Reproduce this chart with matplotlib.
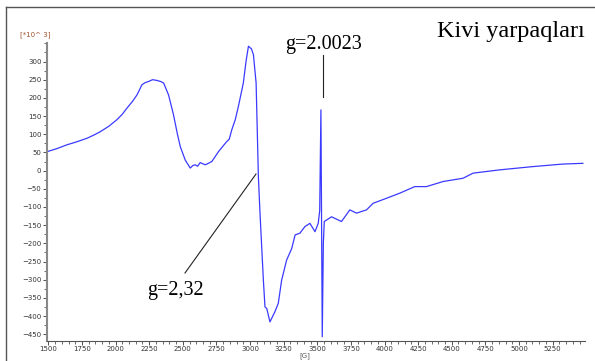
import numpy as np
import matplotlib
matplotlib.use('AGG')
import matplotlib.pyplot as plt
from matplotlib.lines import Line2D
from matplotlib.ticker import MultipleLocator

# EPR spectrum: field [G], signal [*10^3]
field = [1490, 1560, 1639, 1710, 1788, 1840, 1886, 1950, 2010, 2050, 2085, 2125,
         2159, 2196, 2220, 2245, 2275, 2307, 2335, 2357, 2394, 2431, 2460, 2481,
         2518, 2555, 2575, 2592, 2610, 2629, 2666, 2690, 2716, 2765, 2800, 2827,
         2845, 2864, 2890, 2913, 2950, 2970, 2988, 3010, 3025, 3045, 3062, 3074,
         3099, 3111, 3124, 3148, 3185, 3210, 3235, 3272, 3310, 3335, 3371, 3408,
         3445, 3483, 3507, 3518, 3527, 3532, 3537, 3545, 3552, 3606, 3680, 3742,
         3792, 3866, 3915, 4015, 4114, 4225, 4312, 4436, 4584, 4658, 4856, 5103,
         5326, 5475]
signal = [52, 60, 71, 79, 89, 98, 107, 122, 140, 155, 172, 190,
          208, 236, 242, 245, 250, 248, 245, 241, 208, 153, 100, 66,
          29, 7, 14, 16, 12, 22, 16, 20, 25, 52, 68, 80,
          86, 112, 140, 176, 241, 300, 342, 335, 319, 241, -17, -117,
          -301, -375, -379, -416, -388, -365, -301, -246, -214, -177, -172, -154,
          -145, -168, -145, -110, 167, -150, -457, -200, -140, -127, -140, -108,
          -117, -108, -90, -76, -62, -44, -44, -30, -21, -7, 2, 11,
          18, 20]

x_ticks = np.arange(1500, 5500, 250)
y_ticks = np.arange(-450, 301, 50)

fig = plt.figure(figsize=(5.95, 3.61), dpi=100)
ax = fig.add_axes([0.079, 0.056, 0.904, 0.826])

ax.plot(field, signal, color='#3a3aff', lw=0.9)

ax.set_xlim(1490, 5490)
ax.set_ylim(-468, 352)
ax.set_xticks(x_ticks)
ax.set_yticks(y_ticks)
ax.xaxis.set_minor_locator(MultipleLocator(50))
ax.yaxis.set_minor_locator(MultipleLocator(25))
ax.tick_params(axis='both', labelsize=5, colors='#333333', length=3, width=0.6)
ax.tick_params(axis='both', which='minor', length=2, width=0.5, colors='#333333')
ax.tick_params(axis='x', pad=1)
ax.tick_params(axis='y', pad=1)
for s in ['top', 'right']:
    ax.spines[s].set_visible(False)
ax.spines['left'].set_color('#888888')
ax.spines['left'].set_linewidth(1.5)
ax.spines['bottom'].set_color('#555555')
ax.spines['bottom'].set_linewidth(0.8)

fig.text(20 / 595, 1 - 35 / 361, '[*10^ 3]', fontsize=5, color='#a0522d', va='center')
fig.text(305 / 595, 1 - 356 / 361, '[G]', fontsize=5, color='#555555', ha='center', va='center')

serif = ['Liberation Serif', 'DejaVu Serif']
fig.text(511 / 595, 1 - 31 / 361, 'Kivi yarpaqları', fontsize=17.5, family=serif,
         ha='center', va='center')
fig.text(323 / 595, 1 - 45 / 361, 'g=2.0023', fontsize=14.5, family=serif,
         ha='center', va='center')
fig.text(175 / 595, 1 - 290 / 361, 'g=2,32', fontsize=14.5, family=serif,
         ha='center', va='center')

# pointer lines
fig.add_artist(Line2D([323 / 595, 323 / 595], [1 - 55 / 361, 1 - 97 / 361], color='#222222', lw=0.8))
fig.add_artist(Line2D([185 / 595, 256 / 595], [1 - 273 / 361, 1 - 174 / 361], color='#222222', lw=0.8))

# page frame
fig.add_artist(Line2D([6 / 595, 6 / 595], [0, 1 - 7 / 361], color='#555555', lw=1.0))
fig.add_artist(Line2D([6 / 595, 1], [1 - 7 / 361, 1 - 7 / 361], color='#555555', lw=1.0))

fig.savefig('out.png', dpi=100)
plt.close()
